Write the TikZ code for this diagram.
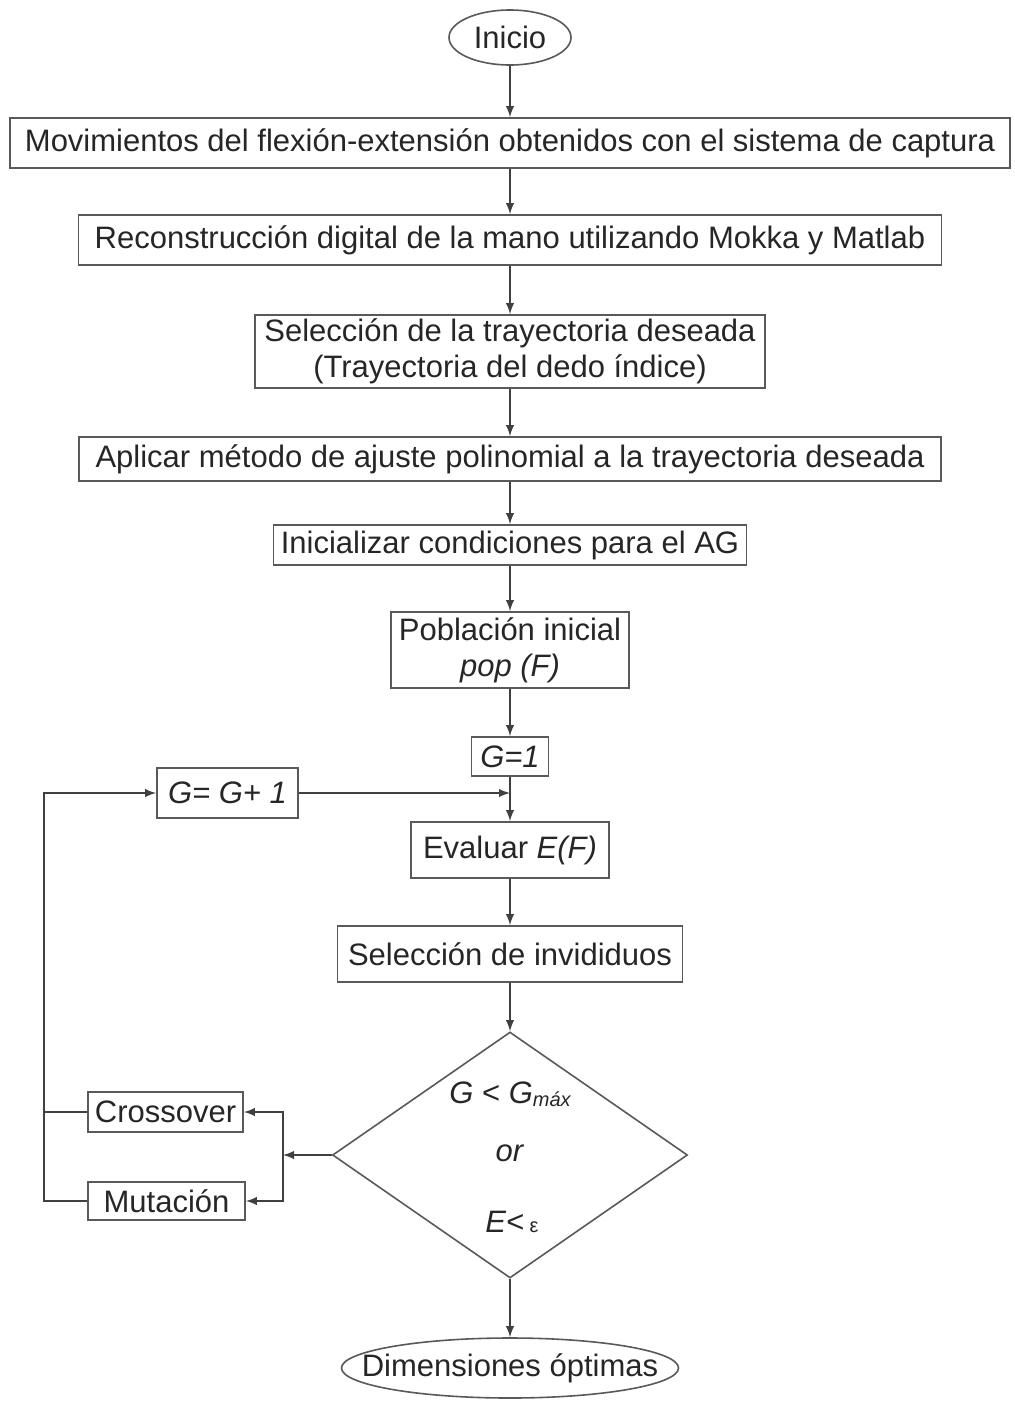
\documentclass[tikz,border=0pt]{standalone}
\usepackage{fontspec}
\setmainfont{Liberation Sans}
\usepackage{tikz}
\usetikzlibrary{shapes,arrows}

\begin{document}
\begin{tikzpicture}[x=0.5pt, y=-0.5pt,
	font=\fontsize{15.5}{18}\selectfont, text=black!85,
	paso/.style={draw=black!65, line width=0.9pt, rectangle, align=center, inner xsep=2pt, inner ysep=1pt},
	extremo/.style={draw=black!65, line width=0.8pt, ellipse, inner sep=0pt},
	decision/.style={draw=black!65, line width=0.8pt, diamond, inner sep=0pt},
	flecha/.style={-latex, draw=black!75, line width=0.9pt},
	linea/.style={draw=black!75, line width=0.9pt}]
\useasboundingbox (0,0) rectangle (1014,1404);

\node[extremo, minimum width=61pt, minimum height=27.5pt] (ini) at (510,37.5) {Inicio};

\node[paso, minimum width=500pt, minimum height=25pt] (mov) at (510,143) {Movimientos del flexión-extensión obtenidos con el sistema de captura};
\node[paso, minimum width=431.5pt, minimum height=25pt] (rec) at (510,240) {Reconstrucción digital de la mano utilizando Mokka y Matlab};
\node[paso, minimum width=255pt, minimum height=36.5pt] (tray) at (510,351.5) {Selección de la trayectoria deseada\\(Trayectoria del dedo índice)};
\node[paso, minimum width=431pt, minimum height=22pt] (ajus) at (510,459) {Aplicar método de ajuste polinomial a la trayectoria deseada};
\node[paso, minimum width=236.5pt, minimum height=20pt] (cond0) at (510,545) {Inicializar condiciones para el AG};
\node[paso, minimum width=119pt, minimum height=38pt] (pob) at (510,650) {Población inicial\\\textit{pop (F)}};
\node[paso, minimum width=38.5pt, minimum height=19.5pt] (g1) at (510,756.5) {\textit{G=1}};
\node[paso, minimum width=70.5pt, minimum height=25pt] (gmas) at (227.5,793) {\textit{G= G+ 1}};
\node[paso, minimum width=99pt, minimum height=28pt] (eval) at (510,850) {Evaluar \textit{E(F)}};
\node[paso, minimum width=172.5pt, minimum height=28pt] (selind) at (510,954) {Selección de invididuos};

% criterio de parada
\node[decision, minimum width=177.5pt, minimum height=123pt] (cond) at (510,1155) {};
\node (cmax) at (510,1094) {\textit{G} < \textit{G}\raisebox{-1.5pt}{\fontsize{10}{10}\selectfont\itshape máx}};
\node (cor) at (510,1153) {\textit{or}};
\node (ceps) at (512,1222) {\textit{E}<\,{\fontsize{10}{10}\selectfont ε}};

\node[paso, minimum width=77.5pt, minimum height=20pt] (cross) at (165.5,1112) {Crossover};
\node[paso, minimum width=78.5pt, minimum height=19pt] (mut) at (166.5,1201) {Mutación};

% elipse final mas ajustada al texto
\node[extremo, inner xsep=-14.5pt, minimum width=167.5pt, minimum height=30pt] (fin) at (510,1368) {Dimensiones óptimas};

\coordinate (union) at (283,1155);
\coordinate (retorno) at (44,793);

\draw[flecha] (ini) -- (mov);
\draw[flecha] (mov) -- (rec);
\draw[flecha] (rec) -- (tray);
\draw[flecha] (tray) -- (ajus);
\draw[flecha] (ajus) -- (cond0);
\draw[flecha] (cond0) -- (pob);
\draw[flecha] (pob) -- (g1);
\draw[flecha] (g1) -- (eval);
\draw[flecha] (gmas.east) -- (gmas.east -| eval.north);
\draw[flecha] (eval) -- (selind);
\draw[flecha] (selind) -- (cond);
\draw[flecha] (cond) -- (fin);

\draw[flecha] (cond.west) -- (union);
\draw[flecha] (union) |- (cross.east);
\draw[flecha] (union) |- (mut.east);
\draw[flecha] (mut.west) -| (retorno) -- (gmas.west);
\draw[linea] (cross.west) -- (cross.west -| retorno);
\end{tikzpicture}
\end{document}
